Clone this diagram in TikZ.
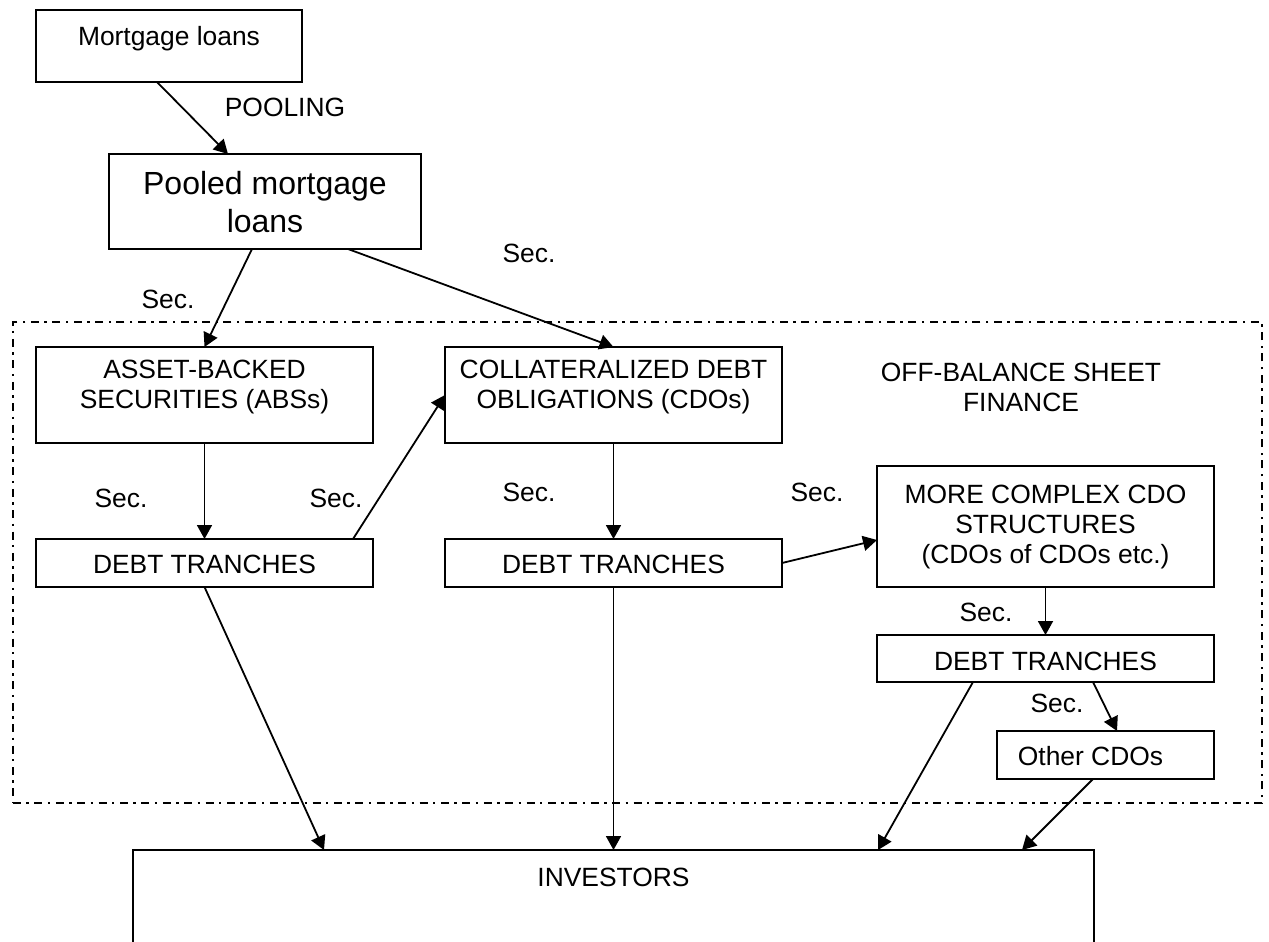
\documentclass[tikz,border=0pt]{standalone}
\usepackage{fontspec}
\setmainfont{Liberation Sans}
\usetikzlibrary{arrows.meta,calc}

\begin{document}
\begin{tikzpicture}[x={(0.5pt,0)}, y={(0,-0.5pt)},
  box/.style={draw, line width=1pt, rectangle, inner sep=0pt, outer sep=0pt},
  regionbox/.style={draw, rectangle, inner sep=0pt, outer sep=0pt, line width=0.75pt,
    dash pattern=on 4pt off 2.7pt on 1.2pt off 2.8pt},
  txt/.style={inner sep=0pt, anchor=base, align=center, font=\fontsize{13.2}{15}\selectfont},
  bigtxt/.style={txt, font=\fontsize{16}{19}\selectfont},
  flow/.style={line width=0.9pt, -{Triangle[length=7pt,width=7.5pt]}}]

\useasboundingbox (0,0) rectangle (1269,942);
\clip (0,0) rectangle (1269,942);

% off-balance-sheet region
\node[regionbox, minimum width=624.5pt, minimum height=240.5pt] (offbs) at (637.5,562.5) {};

% boxes
\node[box, minimum width=133pt,   minimum height=36pt]   (mort)   at (169,46)     {};
\node[box, minimum width=156pt,   minimum height=47.5pt] (pooled) at (265,201.5)  {};
\node[box, minimum width=168.5pt, minimum height=48pt]   (abs)    at (204.5,395)  {};
\node[box, minimum width=168.5pt, minimum height=48pt]   (cdo)    at (613.5,395)  {};
\node[box, minimum width=168.5pt, minimum height=24pt]   (dt1)    at (204.5,563)  {};
\node[box, minimum width=168.5pt, minimum height=24pt]   (dt2)    at (613.5,563)  {};
\node[box, minimum width=168.5pt, minimum height=60.5pt] (mcc)    at (1045.5,526.5) {};
\node[box, minimum width=168.5pt, minimum height=23.5pt] (dt3)    at (1045.5,658.5) {};
\node[box, minimum width=108.5pt, minimum height=24pt]   (other)  at (1105.5,755) {};
\node[box, minimum width=480.5pt, minimum height=65pt]   (inv)    at (613.5,915)  {};

% box texts (multi-line texts sit on the baseline of their last line)
\node[txt]    at (169,45)     {Mortgage loans};
\node[bigtxt] at (265,232)    {Pooled mortgage\\loans};
\node[txt]    at (204.5,408)  {ASSET-BACKED\\SECURITIES (ABSs)};
\node[txt]    at (613.5,408)  {COLLATERALIZED DEBT\\OBLIGATIONS (CDOs)};
\node[txt]    at (204.5,573)  {DEBT TRANCHES};
\node[txt]    at (613.5,573)  {DEBT TRANCHES};
\node[txt]    at (1045.5,563) {MORE COMPLEX CDO\\STRUCTURES\\(CDOs of CDOs etc.)};
\node[txt]    at (1045.5,670) {DEBT TRANCHES};
\node[txt]    at (1090.5,765) {Other CDOs};
\node[txt]    at (613.5,886)  {INVESTORS};
\node[txt]    at (1021,411)   {OFF-BALANCE SHEET\\FINANCE};

% flow labels
\node[txt] at (285,116)  {POOLING};
\node[txt] at (168,308)  {Sec.};
\node[txt] at (529,262)  {Sec.};
\node[txt] at (121,507)  {Sec.};
\node[txt] at (336,507)  {Sec.};
\node[txt] at (529,501)  {Sec.};
\node[txt] at (817,501)  {Sec.};
\node[txt] at (986,621)  {Sec.};
\node[txt] at (1057,712) {Sec.};

% connectors
\draw[flow] ($(mort.south west)+(121,0)$) -- ($(pooled.north west)+(119,0)$);
\draw[flow] ($(pooled.south west)+(143,0)$) -- (abs.north);
\draw[flow] ($(pooled.south west)+(239,0)$) -- (cdo.north);
\draw[flow] (abs.south) -- (dt1.north);
\draw[flow] ($(dt1.north east)+(-20,0)$) -- (cdo.west);
\draw[flow] (cdo.south) -- (dt2.north);
\draw[flow] (dt2.east) -- ($(mcc.south west)+(0,-47)$);
\draw[flow] (mcc.south) -- (dt3.north);
\draw[flow] ($(dt3.south west)+(216,0)$) -- ($(other.north west)+(120,0)$);
\draw[flow] (dt1.south) -- ($(inv.north west)+(191,0)$);
\draw[flow] (dt2.south) -- (dt2.south |- inv.north);
\draw[flow] ($(dt3.south west)+(96,0)$) -- ($(inv.north west)+(745,0)$);
\draw[flow] ($(other.south west)+(96,0)$) -- ($(inv.north west)+(889,0)$);
\end{tikzpicture}
\end{document}
